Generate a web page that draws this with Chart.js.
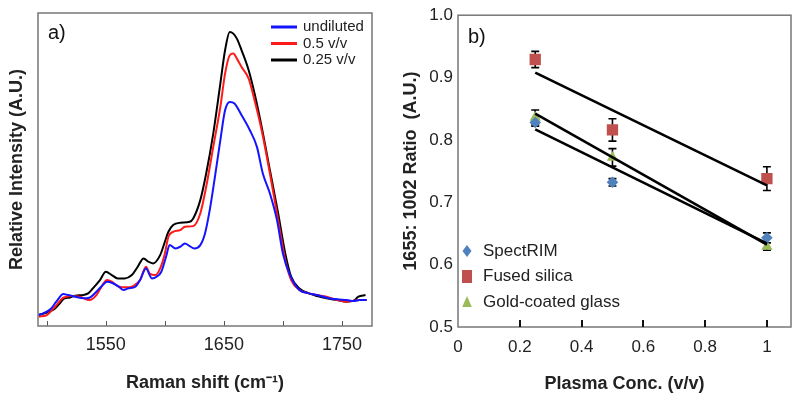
<!DOCTYPE html>
<html lang="en">
<head>
  <meta charset="UTF-8">
  <title>Raman spectra and 1655:1002 ratio</title>
  <script src="https://cdn.jsdelivr.net/npm/chart.js"></script>
  <style>
    html, body { margin: 0; padding: 0; background: #fff; }
    #wrap { position: relative; width: 800px; height: 402px; }
    canvas { position: absolute; top: 0; }
    #chartA { left: 0; }
    #chartB { left: 400px; }
  </style>
</head>
<body>
<div id="wrap">
  <canvas id="chartA" width="400" height="402"></canvas>
  <canvas id="chartB" width="400" height="402"></canvas>
</div>
<script>
  // ---- panel a: Raman spectra (intensity in arbitrary units) ----
  const undilutedShift = [1493,1497,1503,1508,1514,1518,1524,1531,1536,1542,1546,1551,1555,1561,1565,1569,1575,1579,1584,1589,1593,1597,1601,1604,1609,1613,1617,1621,1625,1630,1634,1638,1642,1647,1651,1655,1659,1665,1672,1678,1683,1689,1695,1700,1706,1714,1722,1729,1737,1746,1754,1760,1765,1771];
  const undilutedIntensity = [3.3,3.8,5.0,7.3,9.6,9.3,8.8,8.3,8.5,10.3,11.8,13.3,13.0,11.8,10.8,11.3,11.8,13.8,17.3,14.3,14.8,16.3,20.8,24.3,23.3,23.8,24.8,24.0,23.3,24.3,27.8,34.8,43.8,55.8,64.8,67.3,66.8,63.3,58.8,53.8,45.8,39.8,31.8,21.8,15.3,10.8,9.8,9.3,8.5,8.0,7.8,7.5,7.8,7.8];

  const halfShift = [1493,1500,1507,1514,1521,1528,1536,1542,1546,1551,1555,1561,1568,1573,1579,1584,1587,1592,1596,1600,1603,1607,1613,1617,1624,1630,1635,1641,1647,1651,1655,1658,1661,1665,1671,1676,1682,1689,1696,1702,1707,1714,1722,1729,1737,1746,1754,1760,1765,1771];
  const halfIntensity = [2.8,3.3,5.8,8.5,9.0,8.8,7.8,9.3,11.6,13.8,13.3,11.8,11.6,12.0,13.8,17.8,15.8,15.3,17.3,21.8,26.8,28.3,28.8,29.8,30.0,33.8,41.8,53.8,65.8,75.8,81.3,81.8,80.3,77.8,74.3,67.8,58.8,45.8,31.8,19.8,13.8,10.8,9.8,9.3,8.8,7.8,7.3,7.6,7.8,7.8];

  const quarterShift = [1493,1502,1507,1511,1515,1519,1524,1531,1535,1539,1545,1550,1555,1560,1566,1572,1577,1582,1586,1590,1596,1600,1603,1607,1613,1621,1624,1630,1635,1641,1647,1651,1655,1658,1661,1665,1671,1676,1682,1689,1696,1702,1707,1714,1722,1729,1737,1746,1754,1760,1764,1770];
  const quarterIntensity = [3.3,4.3,5.3,6.8,8.3,8.5,9.1,9.3,9.8,11.3,13.8,16.3,15.3,14.3,14.3,15.3,17.8,20.3,19.3,18.8,21.3,25.3,28.3,30.3,31.0,31.3,32.3,37.8,45.8,57.8,72.8,82.8,88.3,87.8,86.3,82.8,76.8,69.8,59.8,46.8,33.8,21.8,14.8,11.3,9.8,9.0,8.3,7.8,7.3,7.6,8.8,9.3];

  const shiftTicks = [1500, 1550, 1600, 1650, 1700, 1750];
  const shiftTickLabels = ['', '1550', '', '1650', '', '1750'];

  // ---- panel b: 1655:1002 ratio vs plasma concentration ----
  const concentration = [0.25, 0.5, 1];
  const spectrimRatio = [0.828, 0.732, 0.643];
  const spectrimErr = [0.006, 0.006, 0.008];
  const fusedRatio = [0.929, 0.816, 0.738];
  const fusedErr = [0.013, 0.018, 0.019];
  const goldRatio = [0.836, 0.772, 0.629];
  const goldErr = [0.012, 0.014, 0.006];

  const trendConc = [0.25, 1];
  const spectrimTrend = [0.817, 0.634];
  const fusedTrend = [0.908, 0.727];
  const goldTrend = [0.842, 0.632];

  const concTicks = [0, 0.2, 0.4, 0.6, 0.8, 1];
  const concTickLabels = ['0', '0.2', '0.4', '0.6', '0.8', '1'];
  const ratioTicks = [0.5, 0.6, 0.7, 0.8, 0.9, 1.0];
  const ratioTickLabels = ['0.5', '0.6', '0.7', '0.8', '0.9', '1.0'];

  const FONT = '"Liberation Sans", Arial, sans-serif';
  Chart.defaults.font.family = FONT;
  Chart.defaults.color = '#222';

  function toPoints(xs, ys) {
    return xs.map((x, i) => ({ x: x, y: ys[i] }));
  }

  function fixedTicks(values) {
    return function (scale) { scale.ticks = values.map(v => ({ value: v })); };
  }

  // frame, inner tick marks, panel letter and legend for panel a
  const panelA = {
    id: 'panelA',
    afterDatasetsDraw(chart) {
      const { ctx, chartArea: a, scales: { x } } = chart;
      ctx.save();
      ctx.strokeStyle = '#555';
      ctx.lineWidth = 1;
      x.ticks.forEach(t => {
        const px = Math.round(x.getPixelForValue(t.value)) + 0.5;
        ctx.beginPath();
        ctx.moveTo(px, a.bottom);
        ctx.lineTo(px, a.bottom - 5);
        ctx.stroke();
      });
      ctx.strokeStyle = '#777';
      ctx.lineWidth = 1.5;
      ctx.strokeRect(a.left, a.top, a.right - a.left, a.bottom - a.top);

      ctx.fillStyle = '#111';
      ctx.textBaseline = 'middle';
      ctx.font = '20px ' + FONT;
      ctx.fillText('a)', 48, 33);

      ctx.font = '15px ' + FONT;
      chart.data.datasets.forEach((ds, i) => {
        const y = 27 + i * 16.5;
        ctx.strokeStyle = ds.borderColor;
        ctx.lineWidth = 3;
        ctx.beginPath();
        ctx.moveTo(271, y);
        ctx.lineTo(297, y);
        ctx.stroke();
        ctx.fillStyle = '#222';
        ctx.fillText(ds.label, 303, y);
      });
      ctx.restore();
    }
  };

  // legend symbols, slightly taller than wide as in the figure
  function drawMarker(ctx, style, x, y, color) {
    ctx.fillStyle = color;
    ctx.beginPath();
    if (style === 'rectRot') {
      ctx.moveTo(x, y - 6); ctx.lineTo(x + 4.5, y); ctx.lineTo(x, y + 6); ctx.lineTo(x - 4.5, y);
    } else if (style === 'rect') {
      ctx.rect(x - 5, y - 6.5, 10, 13);
    } else {
      ctx.moveTo(x, y - 6);
      ctx.lineTo(x + 4.8, y + 5);
      ctx.lineTo(x - 4.8, y + 5);
    }
    ctx.closePath();
    ctx.fill();
  }

  // error bars, frame, inner tick marks, panel letter and legend for panel b
  const panelB = {
    id: 'panelB',
    beforeDatasetsDraw(chart) {
      const { ctx, scales: { x, y } } = chart;
      ctx.save();
      ctx.strokeStyle = '#000';
      ctx.lineWidth = 1.6;
      chart.data.datasets.forEach(ds => {
        if (!ds.errors) return;
        ds.data.forEach((p, i) => {
          const px = x.getPixelForValue(p.x);
          const top = y.getPixelForValue(p.y + ds.errors[i]);
          const bot = y.getPixelForValue(p.y - ds.errors[i]);
          ctx.beginPath();
          ctx.moveTo(px, top); ctx.lineTo(px, bot);
          ctx.moveTo(px - 4, top); ctx.lineTo(px + 4, top);
          ctx.moveTo(px - 4, bot); ctx.lineTo(px + 4, bot);
          ctx.stroke();
        });
      });
      ctx.restore();
    },
    afterDatasetsDraw(chart) {
      const { ctx, chartArea: a, scales: { x } } = chart;
      ctx.save();
      ctx.strokeStyle = '#777';
      ctx.lineWidth = 1.5;
      ctx.strokeRect(a.left, a.top, a.right - a.left, a.bottom - a.top);
      ctx.strokeStyle = '#111';
      ctx.lineWidth = 2;
      x.ticks.forEach(t => {
        if (t.value === 0) return;
        const px = Math.round(x.getPixelForValue(t.value));
        ctx.beginPath();
        ctx.moveTo(px, a.bottom);
        ctx.lineTo(px, a.bottom - 7);
        ctx.stroke();
      });

      ctx.fillStyle = '#111';
      ctx.textBaseline = 'middle';
      ctx.font = '20px ' + FONT;
      ctx.fillText('b)', 68, 37);

      ctx.font = '17px ' + FONT;
      chart.data.datasets.filter(ds => ds.errors).forEach((ds, i) => {
        const y = 251 + i * 25.5;
        drawMarker(ctx, ds.pointStyle, 67, y, ds.backgroundColor);
        ctx.fillStyle = '#222';
        ctx.fillText(ds.label, 83, y);
      });
      ctx.restore();
    }
  };

  new Chart(document.getElementById('chartA'), {
    type: 'line',
    data: {
      datasets: [
        { label: 'undiluted', data: toPoints(undilutedShift, undilutedIntensity), borderColor: '#1414ff' },
        { label: '0.5 v/v', data: toPoints(halfShift, halfIntensity), borderColor: '#ff1a1a' },
        { label: '0.25 v/v', data: toPoints(quarterShift, quarterIntensity), borderColor: '#000000' }
      ]
    },
    options: {
      responsive: false,
      animation: false,
      events: [],
      layout: { padding: { top: 13, right: 28, left: 0, bottom: 0 } },
      elements: {
        point: { radius: 0 },
        line: { borderWidth: 2, cubicInterpolationMode: 'monotone' }
      },
      plugins: { legend: { display: false }, tooltip: { enabled: false } },
      scales: {
        x: {
          type: 'linear',
          min: 1492.5,
          max: 1775.5,
          afterBuildTicks: fixedTicks(shiftTicks),
          afterFit: s => { s.height = 76; },
          grid: { display: false, drawTicks: false },
          border: { display: false },
          ticks: {
            autoSkip: false, maxRotation: 0, padding: 8,
            font: { size: 18 }, color: '#222',
            callback: (v, i) => shiftTickLabels[i]
          },
          title: {
            display: true, text: 'Raman shift (cm\u207B\u00B9)',
            font: { size: 18, weight: 'bold' }, color: '#222',
            padding: { top: 0, bottom: 8 }
          }
        },
        y: {
          min: 0,
          max: 94,
          afterFit: s => { s.width = 38; },
          grid: { display: false, drawTicks: false },
          border: { display: false },
          ticks: { display: false },
          title: {
            display: true, text: 'Relative Intensity (A.U.)',
            font: { size: 18, weight: 'bold' }, color: '#222',
            padding: { top: 6, bottom: 0 }
          }
        }
      }
    },
    plugins: [panelA]
  });

  const trendStyle = { type: 'line', showLine: true, borderColor: '#000', borderWidth: 2.6, pointRadius: 0, order: 0 };

  new Chart(document.getElementById('chartB'), {
    type: 'scatter',
    data: {
      datasets: [
        Object.assign({ label: 'fused trend', data: toPoints(trendConc, fusedTrend) }, trendStyle),
        Object.assign({ label: 'gold trend', data: toPoints(trendConc, goldTrend) }, trendStyle),
        Object.assign({ label: 'spectrim trend', data: toPoints(trendConc, spectrimTrend) }, trendStyle),
        { label: 'SpectRIM', data: toPoints(concentration, spectrimRatio), errors: spectrimErr,
          pointStyle: 'rectRot', pointRadius: 5.8, backgroundColor: '#4f81bd', borderColor: '#4f81bd', borderWidth: 0, order: 1 },
        { label: 'Fused silica', data: toPoints(concentration, fusedRatio), errors: fusedErr,
          pointStyle: 'rect', pointRadius: 8, backgroundColor: '#c0504d', borderColor: '#c0504d', borderWidth: 0, order: 1 },
        { label: 'Gold-coated glass', data: toPoints(concentration, goldRatio), errors: goldErr,
          pointStyle: 'triangle', pointRadius: 6.5, backgroundColor: '#9bbb59', borderColor: '#9bbb59', borderWidth: 0, order: 1 }
      ]
    },
    options: {
      responsive: false,
      animation: false,
      events: [],
      layout: { padding: { top: 13, right: 9, left: 0, bottom: 0 } },
      plugins: { legend: { display: false }, tooltip: { enabled: false } },
      scales: {
        x: {
          type: 'linear',
          min: 0,
          max: 1.078,
          afterBuildTicks: fixedTicks(concTicks),
          afterFit: s => { s.height = 75; },
          grid: { display: false, drawTicks: false },
          border: { display: false },
          ticks: {
            autoSkip: false, maxRotation: 0, padding: 10,
            font: { size: 17 }, color: '#222',
            callback: (v, i) => concTickLabels[i]
          },
          title: {
            display: true, text: 'Plasma Conc. (v/v)',
            font: { size: 18, weight: 'bold' }, color: '#222',
            padding: { top: 0, bottom: 7 }
          }
        },
        y: {
          min: 0.5,
          max: 1.0,
          afterBuildTicks: fixedTicks(ratioTicks),
          afterFit: s => { s.width = 58; },
          grid: { display: false, drawTicks: false },
          border: { display: false },
          ticks: {
            padding: 5, font: { size: 17 }, color: '#222',
            callback: (v, i) => ratioTickLabels[i]
          },
          title: {
            display: true, text: '1655: 1002 Ratio  (A.U.)',
            font: { size: 18, weight: 'bold' }, color: '#222',
            padding: { top: 0, bottom: 0 }
          }
        }
      }
    },
    plugins: [panelB]
  });
</script>
</body>
</html>
